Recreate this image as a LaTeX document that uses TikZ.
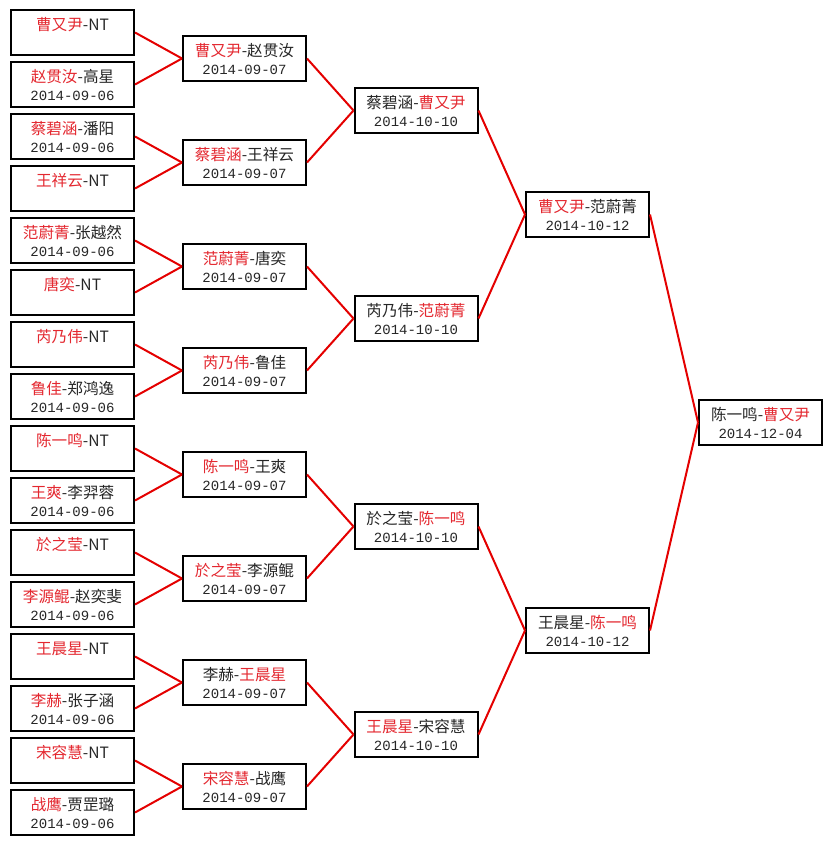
\documentclass[tikz,border=0pt]{standalone}
\usepackage{fontspec}
\newfontfamily\cjk{Noto Sans CJK SC}
\newfontfamily\mono{Liberation Mono}
\definecolor{lred}{RGB}{228,0,0}
\definecolor{tred}{RGB}{228,40,48}
\newcommand\rd[1]{\textcolor{tred}{#1}}
\newcommand\mybox[4]{\node[box] (#1) at (#2) {\rule{0pt}{18.6pt}#3\\{\mono\fontsize{14}{18}\selectfont\strut #4}};}
\begin{document}
\begin{tikzpicture}[x=1pt,y=-1pt,
  box/.style={draw=black, line width=2pt, fill=white, minimum width=123pt, minimum height=45pt,
    inner sep=0pt, align=center, text=black!85, font=\cjk\fontsize{15.6}{18}\selectfont},
  link/.style={draw=lred, line width=2pt}]
\useasboundingbox (0,0) rectangle (831,845);
% column 1
\mybox{a1}{72.5,32.5}{\rd{曹又尹}-NT}{}
\mybox{a2}{72.5,84.5}{\rd{赵贯汝}-高星}{2014-09-06}
\mybox{a3}{72.5,136.5}{\rd{蔡碧涵}-潘阳}{2014-09-06}
\mybox{a4}{72.5,188.5}{\rd{王祥云}-NT}{}
\mybox{a5}{72.5,240.5}{\rd{范蔚菁}-张越然}{2014-09-06}
\mybox{a6}{72.5,292.5}{\rd{唐奕}-NT}{}
\mybox{a7}{72.5,344.5}{\rd{芮乃伟}-NT}{}
\mybox{a8}{72.5,396.5}{\rd{鲁佳}-郑鸿逸}{2014-09-06}
\mybox{a9}{72.5,448.5}{\rd{陈一鸣}-NT}{}
\mybox{a10}{72.5,500.5}{\rd{王爽}-李羿蓉}{2014-09-06}
\mybox{a11}{72.5,552.5}{\rd{於之莹}-NT}{}
\mybox{a12}{72.5,604.5}{\rd{李源鲲}-赵奕斐}{2014-09-06}
\mybox{a13}{72.5,656.5}{\rd{王晨星}-NT}{}
\mybox{a14}{72.5,708.5}{\rd{李赫}-张子涵}{2014-09-06}
\mybox{a15}{72.5,760.5}{\rd{宋容慧}-NT}{}
\mybox{a16}{72.5,812.5}{\rd{战鹰}-贾罡璐}{2014-09-06}
% column 2
\mybox{b1}{244.5,58.5}{\rd{曹又尹}-赵贯汝}{2014-09-07}
\mybox{b2}{244.5,162.5}{\rd{蔡碧涵}-王祥云}{2014-09-07}
\mybox{b3}{244.5,266.5}{\rd{范蔚菁}-唐奕}{2014-09-07}
\mybox{b4}{244.5,370.5}{\rd{芮乃伟}-鲁佳}{2014-09-07}
\mybox{b5}{244.5,474.5}{\rd{陈一鸣}-王爽}{2014-09-07}
\mybox{b6}{244.5,578.5}{\rd{於之莹}-李源鲲}{2014-09-07}
\mybox{b7}{244.5,682.5}{李赫-\rd{王晨星}}{2014-09-07}
\mybox{b8}{244.5,786.5}{\rd{宋容慧}-战鹰}{2014-09-07}
% column 3
\mybox{c1}{416,110.5}{蔡碧涵-\rd{曹又尹}}{2014-10-10}
\mybox{c2}{416,318.5}{芮乃伟-\rd{范蔚菁}}{2014-10-10}
\mybox{c3}{416,526.5}{於之莹-\rd{陈一鸣}}{2014-10-10}
\mybox{c4}{416,734.5}{\rd{王晨星}-宋容慧}{2014-10-10}
% column 4
\mybox{d1}{587.5,214.5}{\rd{曹又尹}-范蔚菁}{2014-10-12}
\mybox{d2}{587.5,630.5}{王晨星-\rd{陈一鸣}}{2014-10-12}
% column 5
\mybox{e1}{760.5,422.5}{陈一鸣-\rd{曹又尹}}{2014-12-04}
% connectors
\foreach \c/\p in {a1/b1,a2/b1,a3/b2,a4/b2,a5/b3,a6/b3,a7/b4,a8/b4,
  a9/b5,a10/b5,a11/b6,a12/b6,a13/b7,a14/b7,a15/b8,a16/b8,
  b1/c1,b2/c1,b3/c2,b4/c2,b5/c3,b6/c3,b7/c4,b8/c4,
  c1/d1,c2/d1,c3/d2,c4/d2,d1/e1,d2/e1}
  \draw[link] (\c.east) -- (\p.west);
\end{tikzpicture}
\end{document}
